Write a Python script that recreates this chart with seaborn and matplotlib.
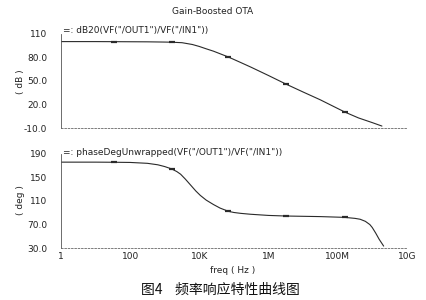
import numpy as np
import pandas as pd
import seaborn as sns
import matplotlib.pyplot as plt
from matplotlib.ticker import NullFormatter

# magnitude response (log10 of freq, dB)
gain_logf = [0, 1, 1.53, 2, 2.5, 3, 3.2, 3.5, 3.8, 4.0, 4.2, 4.41, 4.84, 5.2, 5.5,
             6.0, 6.51, 7.0, 7.5, 8.0, 8.21, 8.6, 9.0, 9.28]
gain_db = [100.2, 100.2, 100.1, 100.0, 99.9, 99.6, 99.4, 98.8, 96.5, 94.0, 91.0, 88.0,
           80.6, 73.5, 67.5, 57.0, 46.0, 36.0, 26.0, 15.0, 10.4, 3.0, -3.0, -7.4]

# phase response (log10 of freq, deg)
phase_logf = [0, 1, 1.53, 2, 2.5, 2.8, 3, 3.2, 3.35, 3.46, 3.6, 3.75, 3.9, 4.03, 4.2,
              4.41, 4.6, 4.84, 5.0, 5.2, 5.48, 6.0, 6.5, 7.5, 8.2, 8.5, 8.65, 8.8,
              8.93, 9.0, 9.1, 9.2, 9.33]
phase_deg = [176.0, 176.0, 175.8, 175.5, 174.0, 171.5, 168.5, 164.5, 160.0, 155.5,
             147.0, 137.0, 127.0, 119.5, 111.5, 104.0, 98.0, 92.5, 90.5, 89.0, 87.5,
             85.5, 84.5, 83.5, 82.2, 80.5, 79.0, 75.5, 70.0, 65.0, 55.5, 45.0, 33.4]

marker_logf = [1.53, 3.2, 4.84, 6.51, 8.21]
marker_logf_ph = [1.53, 3.2, 4.84, 6.5, 8.2]

db_ticks = [-10, 20, 50, 80, 110]
db_labels = ["-10.0", "20.0", "50.0", "80.0", "110"]
deg_ticks = [30, 70, 110, 150, 190]
deg_labels = ["30.0", "70.0", "110", "150", "190"]
freq_ticks = [1, 1e2, 1e4, 1e6, 1e8, 1e10]
freq_labels = ["1", "100", "10K", "1M", "100M", "10G"]

gain = pd.DataFrame({"freq": np.power(10.0, gain_logf), "val": gain_db})
phase = pd.DataFrame({"freq": np.power(10.0, phase_logf), "val": phase_deg})
gain_mk = gain[np.isin(gain_logf, marker_logf)]
phase_mk = phase[np.isin(phase_logf, marker_logf_ph)]

sns.set_style("white")
plt.rcParams["font.family"] = ["DejaVu Sans"]
fig = plt.figure(figsize=(4.26, 3.0), dpi=100)

ax1 = fig.add_axes([0.143, 0.573, 0.812, 0.314])
ax2 = fig.add_axes([0.143, 0.173, 0.812, 0.314])

col = "#2a2a2a"
for ax, df, mk, ticks, labels, lim in [
        (ax1, gain, gain_mk, db_ticks, db_labels, (-10, 110)),
        (ax2, phase, phase_mk, deg_ticks, deg_labels, (30, 190))]:
    sns.lineplot(data=df, x="freq", y="val", ax=ax, color=col, linewidth=0.8)
    sns.scatterplot(data=mk, x="freq", y="val", ax=ax, color=col, marker="_",
                    s=14, linewidth=1.6)
    ax.set_xscale("log")
    ax.set_xlim(1, 1e10)
    ax.set_ylim(*lim)
    ax.set_yticks(ticks)
    ax.set_yticklabels(labels)
    ax.set_xticks(freq_ticks)
    ax.set_xticks([10 ** k for k in range(1, 10, 2)], minor=True)
    ax.xaxis.set_minor_formatter(NullFormatter())
    ax.set_xlabel("")
    ax.set_ylabel("")
    ax.spines["top"].set_visible(False)
    ax.spines["right"].set_visible(False)
    ax.spines["left"].set_linewidth(0.6)
    ax.spines["left"].set_color("#555555")
    ax.spines["bottom"].set_linewidth(0.6)
    ax.spines["bottom"].set_color("#666666")
    ax.spines["bottom"].set_linestyle((0, (2, 2)))
    ax.tick_params(axis="both", which="both", direction="in", length=2.5, width=0.5,
                   colors="#444444", labelsize=6.5, labelcolor="#222222")
    ax.tick_params(axis="y", pad=10)
    ax.tick_params(axis="x", pad=3)
    ax.set_facecolor("white")

ax1.set_xticklabels([])
ax2.set_xticklabels(freq_labels)

fig.text(0.5, 0.96, "Gain-Boosted OTA", ha="center", va="center", fontsize=6.5, color="#222222")
fig.text(0.148, 0.90, '=: dB20(VF("/OUT1")/VF("/IN1"))', ha="left", va="center",
         fontsize=6.5, color="#222222")
fig.text(0.148, 0.493, '=: phaseDegUnwrapped(VF("/OUT1")/VF("/IN1"))', ha="left",
         va="center", fontsize=6.5, color="#222222")
fig.text(0.047, 0.727, "( dB )", rotation=90, ha="center", va="center", fontsize=6.5,
         color="#222222")
fig.text(0.047, 0.333, "( deg )", rotation=90, ha="center", va="center", fontsize=6.5,
         color="#222222")
fig.text(0.547, 0.098, "freq ( Hz )", ha="center", va="center", fontsize=6.5, color="#222222")
fig.text(0.517, 0.033, "图4    频率响应特性曲线图", ha="center", va="center", fontsize=10,
         color="#111111", family=["Noto Sans CJK SC", "DejaVu Sans"])

fig.savefig("out.png", dpi=100, facecolor="white")
